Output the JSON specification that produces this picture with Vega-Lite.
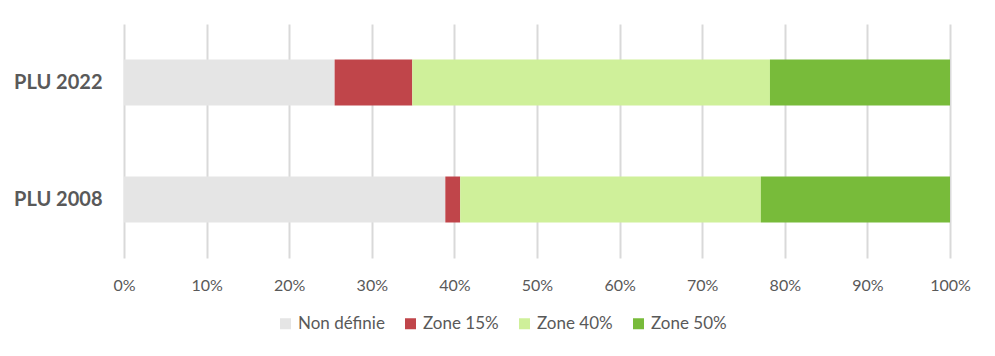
{
  "$schema": "https://vega.github.io/schema/vega-lite/v6.json",
  "width": 826,
  "height": 234,
  "autosize": {"type": "none"},
  "padding": {"left": 124, "top": 24, "right": 45, "bottom": 98},
  "background": "white",
  "data": {
    "values": [
      {"plu": "PLU 2022", "zone": "Non définie", "o": 1, "v": 25.5},
      {"plu": "PLU 2022", "zone": "Zone 15%", "o": 2, "v": 9.4},
      {"plu": "PLU 2022", "zone": "Zone 40%", "o": 3, "v": 43.3},
      {"plu": "PLU 2022", "zone": "Zone 50%", "o": 4, "v": 21.8},
      {"plu": "PLU 2008", "zone": "Non définie", "o": 1, "v": 38.9},
      {"plu": "PLU 2008", "zone": "Zone 15%", "o": 2, "v": 1.8},
      {"plu": "PLU 2008", "zone": "Zone 40%", "o": 3, "v": 36.4},
      {"plu": "PLU 2008", "zone": "Zone 50%", "o": 4, "v": 22.9}
    ]
  },
  "mark": {"type": "bar"},
  "encoding": {
    "y": {
      "field": "plu",
      "type": "nominal",
      "sort": ["PLU 2022", "PLU 2008"],
      "scale": {"paddingInner": 0.607, "paddingOuter": 0.3035},
      "axis": {
        "title": null,
        "domain": false,
        "ticks": false,
        "grid": false,
        "labelFont": "Lato",
        "labelFontSize": 20,
        "labelFontWeight": "bold",
        "labelColor": "#595959",
        "labelPadding": 22
      }
    },
    "x": {
      "field": "v",
      "type": "quantitative",
      "stack": "normalize",
      "scale": {"domain": [0, 1], "nice": false},
      "axis": {
        "title": null,
        "format": ".0%",
        "values": [0, 0.1, 0.2, 0.3, 0.4, 0.5, 0.6, 0.7, 0.8, 0.9, 1],
        "domain": false,
        "ticks": false,
        "grid": true,
        "gridColor": "#d9d9d9",
        "gridWidth": 2,
        "labelFont": "Lato",
        "labelFontSize": 16,
        "labelColor": "#595959",
        "labelPadding": 19,
        "labelFlush": false
      }
    },
    "color": {
      "field": "zone",
      "type": "nominal",
      "scale": {
        "domain": ["Non définie", "Zone 15%", "Zone 40%", "Zone 50%"],
        "range": ["#e5e5e5", "#c0454a", "#cff09a", "#78bb3a"]
      },
      "legend": {
        "title": null,
        "orient": "none",
        "legendX": 153,
        "legendY": 291,
        "direction": "horizontal",
        "symbolType": "square",
        "symbolSize": 121,
        "symbolStrokeWidth": 0,
        "symbolOpacity": 1,
        "labelFont": "Lato",
        "labelFontSize": 17,
        "labelColor": "#595959",
        "labelOffset": 4,
        "columnPadding": 17
      }
    },
    "order": {"field": "o", "type": "quantitative"}
  },
  "config": {
    "view": {"stroke": null}
  }
}
